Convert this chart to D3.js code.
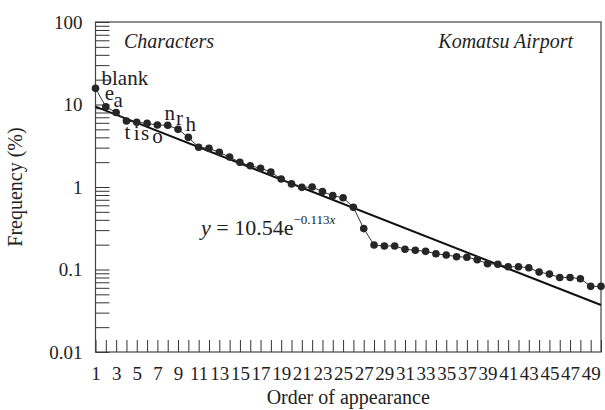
<!DOCTYPE html>
<html>
<head>
<meta charset="utf-8">
<script src="https://cdn.jsdelivr.net/npm/d3@7"></script>
<style>
  body { margin: 0; background: #fff; }
</style>
</head>
<body>
<div id="chart"></div>
<script>
// order of appearance (x categories)
var order = [1,2,3,4,5,6,7,8,9,10,11,12,13,14,15,16,17,18,19,20,21,22,23,24,25,
             26,27,28,29,30,31,32,33,34,35,36,37,38,39,40,41,42,43,44,45,46,47,48,49,50];
// frequency (%)
var frequency = [15.7, 9.4, 8.0, 6.3, 6.1, 5.9, 5.65, 5.6, 5.0, 4.0,
                 3.03, 2.94, 2.63, 2.31, 1.99, 1.81, 1.69, 1.52, 1.25, 1.09,
                 0.99, 1.0, 0.88, 0.785, 0.74, 0.567, 0.313, 0.198, 0.193, 0.193,
                 0.176, 0.171, 0.166, 0.155, 0.150, 0.143, 0.141, 0.1315, 0.1175, 0.1156,
                 0.108, 0.108, 0.105, 0.093, 0.088, 0.080, 0.080, 0.0774, 0.0625, 0.0625];
// characters labelling the first points
var charLabels = ["blank", "e", "a", "t", "i", "s", "o", "n", "r", "h"];
// axis ticks
var yDecades = [0.01, 0.1, 1, 10, 100];
var yTickLabels = ["0.01", "0.1", "1", "10", "100"];
var xTickLabels = ["1","3","5","7","9","11","13","15","17","19","21","23","25",
                   "27","29","31","33","35","37","39","41","43","45","47","49"];
// fitted curve y = a e^(b x)
var fitA = 10.54;
var fitB = -0.113;

var FONT = '"Times New Roman", Tinos, serif';
var width = 605, height = 410;
var margin = {top: 22, right: 4, bottom: 58, left: 95.5};

var svg = d3.select('#chart').append('svg')
    .attr('width', width)
    .attr('height', height)
    .style('font-family', FONT);

// plain text helper so every label gets the same serif face
function label(sel, size, italic) {
    return sel.attr('fill', '#222')
        .style('font-family', FONT)
        .style('font-size', size + 'px')
        .style('font-style', italic ? 'italic' : 'normal');
}

var x = d3.scaleLinear().domain([1, 50]).range([margin.left, width - margin.right]);
var y = d3.scaleLog().domain([0.01, 100]).range([height - margin.bottom, margin.top]);

/* y axis: minor ticks 2..9 each decade, labels on decades */
var yTicks = [];
yDecades.forEach(function(d, i) {
    yTicks.push(d);
    if (i < yDecades.length - 1) {
        for (var k = 2; k <= 9; k++) yTicks.push(d * k);
    }
});
var yAxis = d3.axisLeft(y)
    .tickValues(yTicks)
    .tickSize(-14)
    .tickSizeOuter(0)
    .tickPadding(13)
    .tickFormat(function(d) {
        var i = yDecades.findIndex(function(v) { return Math.abs(v - d) / v < 1e-6; });
        return i >= 0 ? yTickLabels[i] : "";
    });
var gy = svg.append('g')
    .attr('transform', 'translate(' + margin.left + ',0)')
    .call(yAxis)
    .attr('font-family', null)
    .attr('font-size', null);
gy.select('.domain').remove();
gy.selectAll('line').attr('stroke', '#333');
label(gy.selectAll('text'), 19, false);

/* x axis: a tick at every position, labels on odd ones */
var xAxis = d3.axisBottom(x)
    .tickValues(order)
    .tickSize(-12)
    .tickSizeOuter(0)
    .tickPadding(15)
    .tickFormat(function(d) {
        var s = String(d);
        return xTickLabels.indexOf(s) >= 0 ? s : "";
    });
var gx = svg.append('g')
    .attr('transform', 'translate(0,' + (height - margin.bottom) + ')')
    .call(xAxis)
    .attr('font-family', null)
    .attr('font-size', null);
gx.select('.domain').remove();
gx.selectAll('line').attr('stroke', '#333');
label(gx.selectAll('text'), 19, false);

/* frame */
svg.append('rect')
    .attr('x', margin.left)
    .attr('y', margin.top)
    .attr('width', width - margin.right - margin.left)
    .attr('height', height - margin.bottom - margin.top)
    .attr('fill', 'none')
    .attr('stroke', '#444')
    .attr('stroke-width', 1.2);

/* fitted line */
var fitLine = d3.line()
    .x(function(d) { return x(d); })
    .y(function(d) { return y(fitA * Math.exp(fitB * d)); });
svg.append('path')
    .datum([order[0], order[order.length - 1]])
    .attr('fill', 'none')
    .attr('stroke', '#111')
    .attr('stroke-width', 2)
    .attr('d', fitLine);

/* data line and points */
var line = d3.line()
    .x(function(d, i) { return x(order[i]); })
    .y(function(d) { return y(d); });
svg.append('path')
    .datum(frequency)
    .attr('fill', 'none')
    .attr('stroke', '#333')
    .attr('stroke-width', 1)
    .attr('d', line);

svg.selectAll('.dot')
    .data(frequency)
    .enter().append('circle')
    .attr('class', 'dot')
    .attr('cx', function(d, i) { return x(order[i]); })
    .attr('cy', function(d) { return y(d); })
    .attr('r', 3.8)
    .attr('fill', '#262626');

/* character labels next to the first points */
var labelPlace = [
    {anchor: 'start', dx: 6, dy: -3},
    {anchor: 'middle', dx: 3.5, dy: -6.5},
    {anchor: 'middle', dx: 2, dy: -5.5},
    {anchor: 'middle', dx: 1, dy: 17.7},
    {anchor: 'middle', dx: 0, dy: 17.7},
    {anchor: 'middle', dx: -2, dy: 16.7},
    {anchor: 'middle', dx: 0, dy: 18},
    {anchor: 'middle', dx: 2, dy: -5.3},
    {anchor: 'middle', dx: 1.5, dy: -4.3},
    {anchor: 'middle', dx: 2.5, dy: -6.3}
];
label(svg.selectAll('.char')
    .data(charLabels)
    .enter().append('text')
    .attr('class', 'char')
    .attr('x', function(d, i) { return x(order[i]) + labelPlace[i].dx; })
    .attr('y', function(d, i) { return y(frequency[i]) + labelPlace[i].dy; })
    .attr('text-anchor', function(d, i) { return labelPlace[i].anchor; })
    .text(function(d) { return d; }), 21, false);

/* panel titles */
label(svg.append('text').attr('x', 124).attr('y', 48), 20, true)
    .text('Characters');
label(svg.append('text').attr('x', 573).attr('y', 48).attr('text-anchor', 'end'), 20, true)
    .text('Komatsu Airport');

/* equation */
var eq = label(svg.append('text').attr('x', 201).attr('y', 235), 22, false);
label(eq.append('tspan'), 22, true).text('y');
label(eq.append('tspan'), 22, false).text(' = ' + fitA.toFixed(2) + 'e');
label(eq.append('tspan').attr('dy', -11), 13, false)
    .text('\u2212' + Math.abs(fitB).toFixed(3));
label(eq.append('tspan'), 13, true).text('x');

/* axis titles */
label(svg.append('text')
    .attr('transform', 'translate(22,' + ((margin.top + height - margin.bottom) / 2) + ') rotate(-90)')
    .attr('text-anchor', 'middle'), 20, false)
    .text('Frequency (%)');
label(svg.append('text')
    .attr('x', (margin.left + width - margin.right) / 2)
    .attr('y', 404)
    .attr('text-anchor', 'middle'), 20, false)
    .text('Order of appearance');
</script>
</body>
</html>
